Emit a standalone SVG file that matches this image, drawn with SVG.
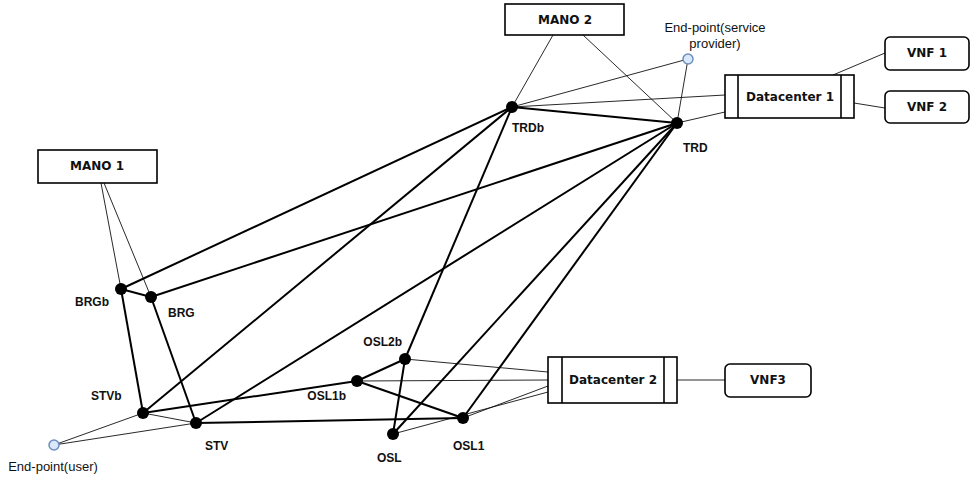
<svg xmlns="http://www.w3.org/2000/svg" width="971" height="477" viewBox="0 0 971 477">
<style>
.box{fill:#fff;stroke:#000;stroke-width:1.6}
.thick{stroke:#000;stroke-width:2;fill:none}
.thin{stroke:#111;stroke-width:0.9;fill:none}
.node{fill:#000}
.ep{fill:#dae8fc;stroke:#6c8ebf;stroke-width:1.5}
.bl{font-family:"DejaVu Sans",Verdana,sans-serif;font-weight:bold;font-size:12px;fill:#111;text-anchor:middle;dominant-baseline:central}
.nl{font-family:"Liberation Sans",Arial,sans-serif;font-weight:bold;font-size:12px;fill:#111}
.rl{font-family:"Liberation Sans",Arial,sans-serif;font-size:13px;fill:#111;text-anchor:middle}
</style>
<rect width="971" height="477" fill="#fff"/>
<g id="connectors">
<line class="thin" x1="101" y1="183" x2="121" y2="289"/>
<line class="thin" x1="104" y1="183" x2="151" y2="297"/>
<line class="thin" x1="553" y1="35" x2="512" y2="107"/>
<line class="thin" x1="583" y1="35" x2="677" y2="123"/>
<line class="thin" x1="512" y1="107" x2="688" y2="59"/>
<line class="thin" x1="677" y1="123" x2="688" y2="59"/>
<line class="thin" x1="512" y1="107" x2="725" y2="95"/>
<line class="thin" x1="677" y1="123" x2="725" y2="112"/>
<line class="thin" x1="833" y1="75" x2="885" y2="53"/>
<line class="thin" x1="854" y1="103" x2="885" y2="108"/>
<line class="thin" x1="677" y1="380" x2="725" y2="380"/>
<line class="thin" x1="405" y1="359" x2="548" y2="372"/>
<line class="thin" x1="357" y1="381" x2="548" y2="380"/>
<line class="thin" x1="463" y1="418" x2="548" y2="386"/>
<line class="thin" x1="393" y1="434" x2="548" y2="392"/>
<line class="thin" x1="143" y1="413" x2="196" y2="423"/>
<line class="thin" x1="54" y1="445" x2="143" y2="413"/>
<line class="thin" x1="54" y1="445" x2="196" y2="423"/>
<line class="thick" x1="121" y1="289" x2="151" y2="297"/>
<line class="thick" x1="121" y1="289" x2="512" y2="107"/>
<line class="thick" x1="151" y1="297" x2="677" y2="123"/>
<line class="thick" x1="121" y1="289" x2="143" y2="413"/>
<line class="thick" x1="151" y1="297" x2="196" y2="423"/>
<line class="thick" x1="512" y1="107" x2="677" y2="123"/>
<line class="thick" x1="512" y1="107" x2="405" y2="359"/>
<line class="thick" x1="512" y1="107" x2="143" y2="413"/>
<line class="thick" x1="677" y1="123" x2="196" y2="423"/>
<line class="thick" x1="677" y1="123" x2="393" y2="434"/>
<line class="thick" x1="677" y1="123" x2="463" y2="418"/>
<line class="thick" x1="143" y1="413" x2="357" y2="381"/>
<line class="thick" x1="196" y1="423" x2="463" y2="418"/>
<line class="thick" x1="357" y1="381" x2="405" y2="359"/>
<line class="thick" x1="357" y1="381" x2="463" y2="418"/>
<line class="thick" x1="405" y1="359" x2="393" y2="434"/>
</g>
<g id="mano1"><rect class="box" x="38" y="150" width="119" height="33"/><text class="bl" x="97" y="166">MANO 1</text></g>
<g id="mano2"><rect class="box" x="505" y="4" width="119" height="31"/><text class="bl" x="565" y="20">MANO 2</text></g>
<g id="dc1"><rect class="box" x="725" y="75" width="129" height="43"/><line class="box" x1="738" y1="75" x2="738" y2="118"/><line class="box" x1="841" y1="75" x2="841" y2="118"/><text class="bl" x="790" y="97">Datacenter 1</text></g>
<g id="dc2"><rect class="box" x="548" y="357" width="129" height="46"/><line class="box" x1="562" y1="357" x2="562" y2="403"/><line class="box" x1="664" y1="357" x2="664" y2="403"/><text class="bl" x="613" y="380">Datacenter 2</text></g>
<g id="vnf1"><rect class="box" x="885" y="37" width="84" height="33" rx="5"/><text class="bl" x="927" y="53">VNF 1</text></g>
<g id="vnf2"><rect class="box" x="885" y="91" width="84" height="32" rx="5"/><text class="bl" x="927" y="107">VNF 2</text></g>
<g id="vnf3"><rect class="box" x="725" y="364" width="86" height="33" rx="5"/><text class="bl" x="768" y="380">VNF3</text></g>
<g id="ep-sp"><circle class="ep" cx="688" cy="59" r="5"/><text class="rl" x="715" y="32">End-point(service</text><text class="rl" x="715" y="48">provider)</text></g>
<g id="ep-user"><circle class="ep" cx="54" cy="445" r="5"/><text class="rl" x="53" y="471">End-point(user)</text></g>
<g id="trdb"><circle class="node" cx="512" cy="107" r="6"/><text class="nl" x="512" y="132">TRDb</text></g>
<g id="trd"><circle class="node" cx="677" cy="123" r="6"/><text class="nl" x="683" y="152">TRD</text></g>
<g id="brgb"><circle class="node" cx="121" cy="289" r="6"/><text class="nl" x="109" y="306" text-anchor="end">BRGb</text></g>
<g id="brg"><circle class="node" cx="151" cy="297" r="6"/><text class="nl" x="168" y="317">BRG</text></g>
<g id="stvb"><circle class="node" cx="143" cy="413" r="6"/><text class="nl" x="91" y="400">STVb</text></g>
<g id="stv"><circle class="node" cx="196" cy="423" r="6"/><text class="nl" x="205" y="450">STV</text></g>
<g id="osl2b"><circle class="node" cx="405" cy="359" r="6"/><text class="nl" x="402" y="346" text-anchor="end">OSL2b</text></g>
<g id="osl1b"><circle class="node" cx="357" cy="381" r="6"/><text class="nl" x="346" y="400" text-anchor="end">OSL1b</text></g>
<g id="osl"><circle class="node" cx="393" cy="434" r="6"/><text class="nl" x="377" y="462">OSL</text></g>
<g id="osl1"><circle class="node" cx="463" cy="418" r="6"/><text class="nl" x="453" y="450">OSL1</text></g>
</svg>
